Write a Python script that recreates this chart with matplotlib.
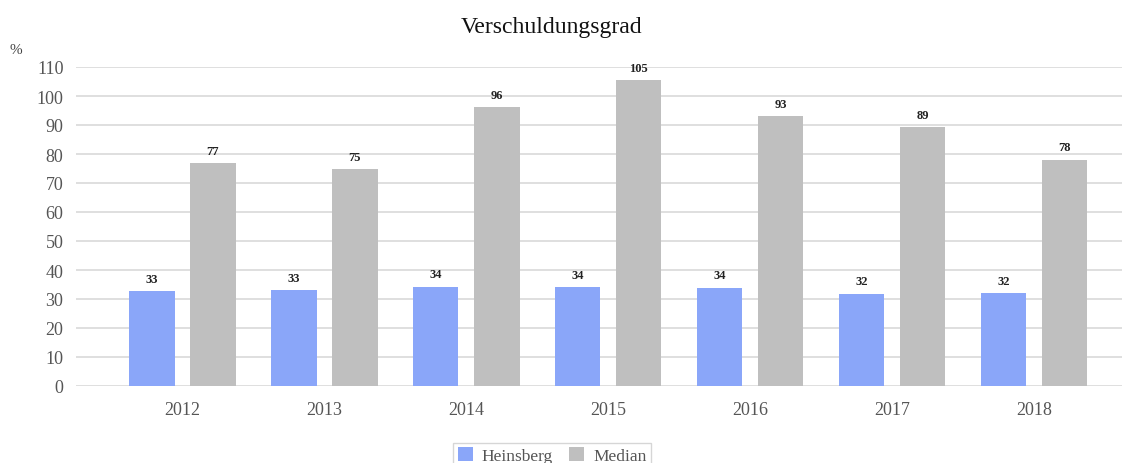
import matplotlib.pyplot as plt
import numpy as np

plt.rcParams['font.family'] = ['Liberation Serif', 'DejaVu Serif']

# Verschuldungsgrad in %, Heinsberg vs. Median
years = ['2012', '2013', '2014', '2015', '2016', '2017', '2018']
heinsberg = [32.6, 33.0, 34.3, 34.0, 33.9, 31.8, 31.9]
median = [76.9, 74.8, 96.2, 105.4, 93.1, 89.3, 78.0]
yticks = list(range(0, 111, 10))

W, H = 1127, 464
fig = plt.figure(figsize=(W / 100, H / 100), dpi=100)
ax = fig.add_axes([76 / W, (H - 387) / H, (1122 - 76) / W, 319 / H])

x = np.arange(len(years))
bw = 0.32
off = 0.215
b1 = ax.bar(x - off, heinsberg, bw, color='#8aa6f9', label='Heinsberg', zorder=3)
b2 = ax.bar(x + off, median, bw, color='#bfbfbf', label='Median', zorder=3)

for bars in (b1, b2):
    for r in bars:
        h = r.get_height()
        ax.text(r.get_x() + r.get_width() / 2, h + 2.2, f'{h:.0f}',
                ha='center', va='bottom', fontsize=9, fontweight='bold', color='#222222')

ax.set_xlim(-0.75, 6.62)
ax.set_ylim(0, 110)
ax.set_yticks(yticks)
ax.set_xticks(x)
ax.set_xticklabels(years)
ax.grid(axis='y', color='#d9d9d9', linewidth=1.2, zorder=0)
for s in ax.spines.values():
    s.set_visible(False)
ax.tick_params(length=0, labelsize=13, labelcolor='#555555')
ax.tick_params(axis='y', pad=9)
ax.tick_params(axis='x', pad=11)

fig.text(552 / W, 1 - 28 / H, 'Verschuldungsgrad', ha='center', va='center',
         fontsize=17, color='#111111')
fig.text(10 / W, 1 - 50 / H, '%', ha='left', va='center', fontsize=11, color='#444444')

fig.legend(handles=[b1, b2], loc='upper center', bbox_to_anchor=(552 / W, 1 - 435 / H),
           ncol=2, frameon=True, fontsize=12.5, handlelength=0.9, handleheight=0.9,
           handletextpad=0.5, columnspacing=0.9, borderpad=0.25, fancybox=False,
           edgecolor='#cccccc', labelcolor='#555555')

fig.savefig('out.png', dpi=100)
